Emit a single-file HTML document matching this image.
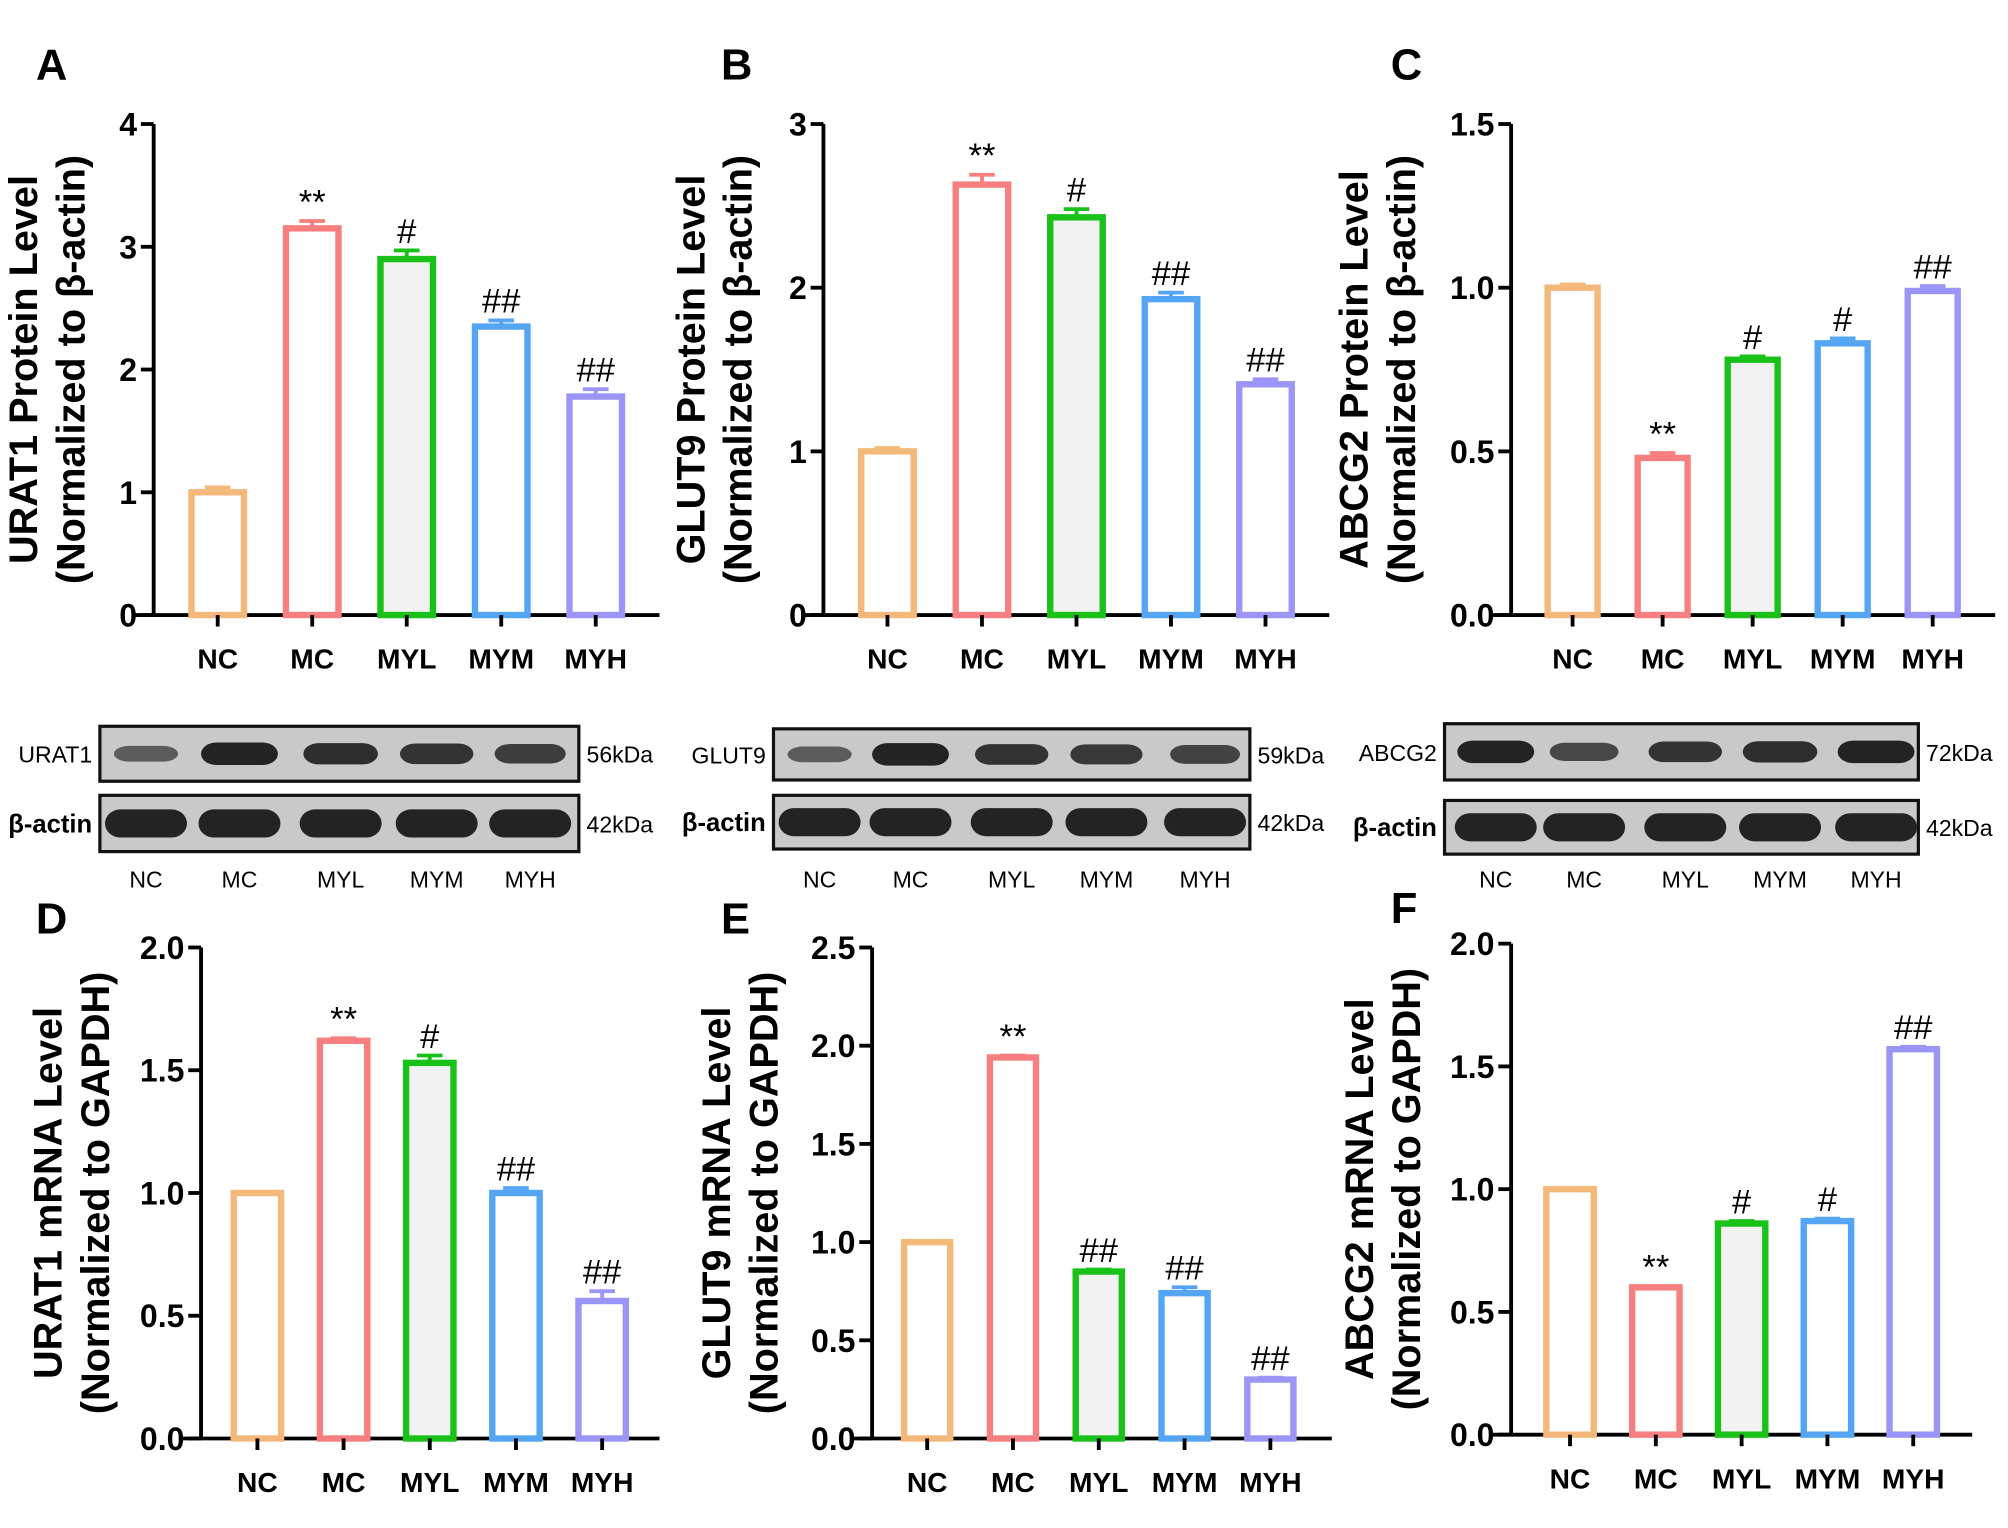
<!DOCTYPE html>
<html><head><meta charset="utf-8"><style>
html,body{margin:0;padding:0;background:#fff}
svg{display:block;font-family:"Liberation Sans",Arial,sans-serif}
</style></head><body>
<svg id="fig" width="2008" height="1528" viewBox="0 0 1568 1195" preserveAspectRatio="none"></svg>
<script>
const NS="http://www.w3.org/2000/svg";
const svg=document.getElementById('fig');
const categories=["NC","MC","MYL","MYM","MYH"];
const colors=["#F4B87A","#F77F7F","#19C119","#55A5F5","#9A95F6"];
const valuesA=[1.0,3.15,2.9,2.35,1.78], errA=[0.04,0.06,0.07,0.05,0.06], sigA=["","**","#","##","##"];
const valuesB=[1.0,2.63,2.43,1.93,1.41], errB=[0.02,0.06,0.05,0.04,0.03], sigB=["","**","#","##","##"];
const valuesC=[1.0,0.48,0.78,0.83,0.99], errC=[0.01,0.015,0.01,0.015,0.015], sigC=["","**","#","#","##"];
const valuesD=[1.0,1.62,1.53,1.0,0.56], errD=[0,0.01,0.03,0.02,0.04], sigD=["","**","#","##","##"];
const valuesE=[1.0,1.94,0.85,0.74,0.30], errE=[0,0.01,0.01,0.03,0.01], sigE=["","**","##","##","##"];
const valuesF=[1.0,0.6,0.86,0.87,1.57], errF=[0,0.005,0.01,0.01,0.01], sigF=["","**","#","#","##"];
const ticksA=["0","1","2","3","4"], ticksB=["0","1","2","3"], ticksC=["0.0","0.5","1.0","1.5"];
const ticksD=["0.0","0.5","1.0","1.5","2.0"], ticksE=["0.0","0.5","1.0","1.5","2.0","2.5"], ticksF=["0.0","0.5","1.0","1.5","2.0"];

function el(tag,attrs,parent,text){const e=document.createElementNS(NS,tag);for(const k in attrs)e.setAttribute(k,attrs[k]);if(text!==undefined)e.textContent=text;(parent||svg).appendChild(e);return e;}

function panel(cfg){
  const g=el('g',{});
  
  
  const y=v=>cfg.y0-(v/cfg.max)*(cfg.y0-cfg.yTop);
  const ya=el('line',{x1:cfg.ax,y1:cfg.yTop,x2:cfg.ax,y2:cfg.y0,stroke:'#000','stroke-width':3},g);
  
  
  cfg.ticks.forEach(t=>{const v=parseFloat(t);const yy=y(v);
    el('line',{x1:cfg.ax-10,y1:yy,x2:cfg.ax,y2:yy,stroke:'#000','stroke-width':3},g);
    const tl=el('text',{x:cfg.ax-13,y:yy+9,'text-anchor':'end','font-size':25,'font-weight':'bold'},g,t);
    
    
  });
  const xa=el('line',{x1:cfg.ax-16,y1:cfg.y0,x2:cfg.xEnd,y2:cfg.y0,stroke:'#000','stroke-width':3},g);
  
  
  cfg.vals.forEach((v,i)=>{
    const cx=cfg.x0+i*cfg.step, w=cfg.bw;
    const top=y(v);
    const r=el('rect',{x:cx-w/2+2.5,y:top,width:w-5,height:cfg.y0-top,fill:i==2?'#f2f2f2':'#fff',stroke:colors[i],'stroke-width':5},g);
    
    
    const e=cfg.err[i];
    if(e>0){const ye=y(v+e);
      el('line',{x1:cx,y1:top,x2:cx,y2:ye,stroke:colors[i],'stroke-width':3},g);
      el('line',{x1:cx-10,y1:ye,x2:cx+10,y2:ye,stroke:colors[i],'stroke-width':3},g);}
    if(cfg.sig[i]){const s=el('text',{x:cx,y:y(v+e)-6,'text-anchor':'middle','font-size':27},g,cfg.sig[i]);
      
      }
    el('line',{x1:cx,y1:cfg.y0,x2:cx,y2:cfg.y0+9,stroke:'#000','stroke-width':3},g);
    const xl=el('text',{x:cx,y:cfg.y0+42,'text-anchor':'middle','font-size':22,'font-weight':'bold'},g,categories[i]);
    
    
  });
  const tg=el('text',{transform:`translate(${cfg.tx},${(cfg.y0+cfg.yTop)/2}) rotate(-90)`,'text-anchor':'middle','font-size':31,'font-weight':'bold'},g);
  
  
  el('tspan',{x:0,dy:0},tg,cfg.t1);
  el('tspan',{x:0,dy:37},tg,cfg.t2);
  const L=el('text',{x:cfg.lx,y:cfg.ly,'font-size':34,'font-weight':'bold'},g,cfg.letter);
  
  
}
panel({letter:'A',lx:28,ly:62,ax:120,y0:481,yTop:97,max:4,ticks:ticksA,xEnd:515,x0:170,step:73.8,bw:46,vals:valuesA,err:errA,sig:sigA,tx:29,t1:'URAT1 Protein Level',t2:'(Normalized to β-actin)'});
panel({letter:'B',lx:563,ly:62,ax:643,y0:481,yTop:97,max:3,ticks:ticksB,xEnd:1038,x0:693,step:73.8,bw:46,vals:valuesB,err:errB,sig:sigB,tx:550,t1:'GLUT9 Protein Level',t2:'(Normalized to β-actin)'});
panel({letter:'C',lx:1086,ly:62,ax:1180,y0:481,yTop:97,max:1.5,ticks:ticksC,xEnd:1558,x0:1228,step:70.3,bw:44,vals:valuesC,err:errC,sig:sigC,tx:1068,t1:'ABCG2 Protein Level',t2:'(Normalized to β-actin)'});
panel({letter:'D',lx:28,ly:730,ax:157,y0:1125,yTop:741,max:2,ticks:ticksD,xEnd:515,x0:201,step:67.3,bw:42,vals:valuesD,err:errD,sig:sigD,tx:48,t1:'URAT1 mRNA Level',t2:'(Normalized to GAPDH)'});
panel({letter:'E',lx:563,ly:730,ax:681,y0:1125,yTop:741,max:2.5,ticks:ticksE,xEnd:1040,x0:724,step:67,bw:41,vals:valuesE,err:errE,sig:sigE,tx:570,t1:'GLUT9 mRNA Level',t2:'(Normalized to GAPDH)'});
panel({letter:'F',lx:1086,ly:722,ax:1180,y0:1122,yTop:738,max:2,ticks:ticksF,xEnd:1540,x0:1226,step:67,bw:42,vals:valuesF,err:errF,sig:sigF,tx:1072,t1:'ABCG2 mRNA Level',t2:'(Normalized to GAPDH)'});

const blotIntensA=[0.45,1,0.9,0.85,0.75], blotIntensB=[0.45,1,0.85,0.8,0.7], blotIntensC=[1,0.65,0.85,0.9,1];
function blot(x1,x2,y,h,lab,kda,intens,bands,actin,name){
  const g=el('g',{});
  
  
  el('rect',{x:x1,y:y,width:x2-x1,height:h,fill:'#c9c9c9',stroke:'#111','stroke-width':2.5},g);
  bands.forEach((cx,i)=>{const k=intens[i];
    el('rect',{x:cx-(actin?32:30*(0.7+0.3*k)),y:y+h/2-(actin?11:8*(0.5+0.6*k)),width:2*(actin?32:30*(0.7+0.3*k)),height:2*(actin?11:8*(0.5+0.6*k)),rx:12,fill:'#1a1a1a',opacity:actin?0.95:(0.35+0.6*k)},g);});
  el('text',{x:x1-6,y:y+h/2+7,'text-anchor':'end','font-size':actin?20:18,'font-weight':actin?'bold':'normal'},g,lab);
  el('text',{x:x2+6,y:y+h/2+7,'font-size':18},g,kda);
}
const bandA=[114,187,266,341,414], bandB=[640,711,790,864,941], bandC=[1168,1237,1316,1390,1465];
blot(78,452,568,43,'URAT1','56kDa',blotIntensA,bandA,false,'blot-urat1');
blot(78,452,622,44,'β-actin','42kDa',[1,1,1,1,1],bandA,true,'blot-actin-a');
blot(604,976,570,40,'GLUT9','59kDa',blotIntensB,bandB,false,'blot-glut9');
blot(604,976,622,42,'β-actin','42kDa',[1,1,1,1,1],bandB,true,'blot-actin-b');
blot(1128,1498,566,44,'ABCG2','72kDa',blotIntensC,bandC,false,'blot-abcg2');
blot(1128,1498,626,42,'β-actin','42kDa',[1,1,1,1,1],bandC,true,'blot-actin-c');
[[bandA,694],[bandB,694],[bandC,694]].forEach(([b,yy])=>b.forEach((cx,i)=>{
  const t=el('text',{x:cx,y:yy,'text-anchor':'middle','font-size':18},svg,categories[i]);
  
  
}));
</script>
</body></html>
